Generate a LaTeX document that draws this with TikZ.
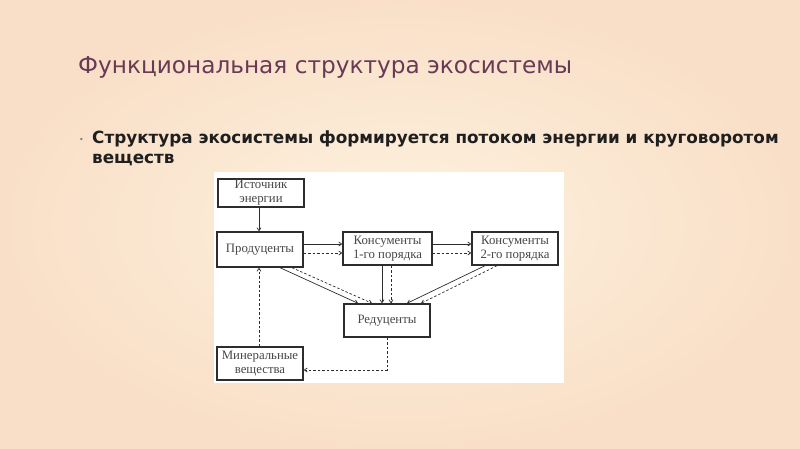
\documentclass[tikz,border=0pt]{standalone}
\usepackage{fontspec}
\setmainfont{DejaVu Sans}
\newfontfamily\boxfont{Liberation Serif}
\usetikzlibrary{arrows.meta}
\definecolor{bgIn}{RGB}{253,242,222}
\definecolor{bgOut}{RGB}{249,223,200}
\definecolor{titlec}{RGB}{105,58,85}
\definecolor{linec}{RGB}{45,45,45}
\begin{document}
\begin{tikzpicture}[x=1pt,y=-1pt,
  box/.style={draw=linec,line width=1.4pt,fill=white,inner sep=0pt,font=\boxfont\fontsize{12.8}{13.8}\selectfont,text=black!72,align=center},
  arr/.style={draw=linec,line width=0.7pt,-{Straight Barb[length=3pt,width=4pt]}},
  darr/.style={arr,dash pattern=on 2.5pt off 2pt}]
\shade[inner color=bgIn,outer color=bgOut] (0,0) rectangle (800,449);
\useasboundingbox (0,0) rectangle (800,449);
\node[anchor=base west,text=titlec,font=\fontsize{23.2}{26}\selectfont,inner sep=0pt] (title) at (78,74) {Функциональная структура экосистемы};
\node[anchor=base west,text=black!50,font=\fontsize{8}{8}\selectfont,inner sep=0pt] (bul) at (79,143) {•};
\node[anchor=base west,text=black!88,font=\bfseries\fontsize{16.8}{20}\selectfont,inner sep=0pt] (btxt) at (92,144) {Структура экосистемы формируется потоком энергии и круговоротом};
\node[anchor=base west,text=black!88,font=\bfseries\fontsize{16.8}{20}\selectfont,inner sep=0pt] (btxt2) at (92,164) {веществ};
\node[fill=white,minimum width=350pt,minimum height=211pt,inner sep=0pt] (panel) at (388.5,277.5) {};
\node[box,minimum width=86pt,minimum height=28pt] (src) at (261,193) {Источник\\энергии};
\node[box,minimum width=86pt,minimum height=35pt] (prod) at (260,249.5) {Продуценты};
\node[box,minimum width=89pt,minimum height=33pt] (k1) at (387.5,248.5) {Консументы\\1-го порядка};
\node[box,minimum width=86pt,minimum height=33pt] (k2) at (515,248.5) {Консументы\\2-го порядка};
\node[box,minimum width=86pt,minimum height=33pt] (red) at (387,320.5) {Редуценты};
\node[box,minimum width=86pt,minimum height=33pt] (min) at (260,363.5) {Минеральные\\вещества};
\draw[arr] (src.south -| 259,0) -- (prod.north -| 259,0);
\draw[arr] (prod.east |- 0,244) -- (k1.west |- 0,244);
\draw[darr] (prod.east |- 0,253) -- (k1.west |- 0,253);
\draw[arr] (k1.east |- 0,244) -- (k2.west |- 0,244);
\draw[darr] (k1.east |- 0,253) -- (k2.west |- 0,253);
\draw[arr] (prod.south -| 280,0) -- (red.north -| 358,0);
\draw[darr] (prod.south -| 292,0) -- (red.north -| 372,0);
\draw[arr] (k1.south -| 382,0) -- (red.north -| 382,0);
\draw[darr] (k1.south -| 391,0) -- (red.north -| 391,0);
\draw[arr] (k2.south -| 485,0) -- (red.north -| 407,0);
\draw[darr] (k2.south -| 497,0) -- (red.north -| 421,0);
\coordinate (c1) at (387,370);
\draw[darr] (red.south) -- (c1) -- (min.east |- c1);
\draw[darr] (min.north -| 259,0) -- (prod.south -| 259,0);
\end{tikzpicture}
\end{document}
